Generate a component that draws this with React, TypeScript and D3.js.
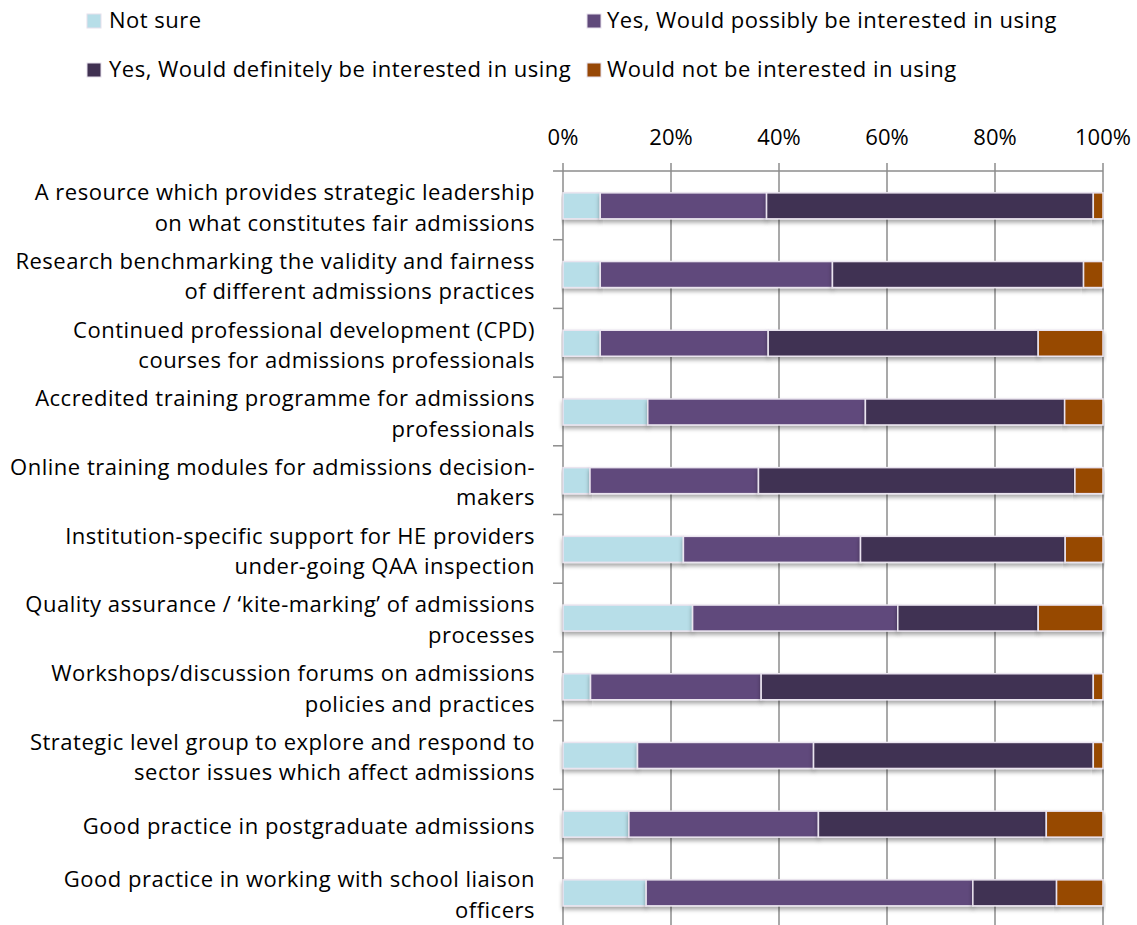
import React from "react";
import * as d3 from "d3";

const categories: string[] = [
  "A resource which provides strategic leadership\non what constitutes fair admissions",
  "Research benchmarking the validity and fairness\nof different admissions practices",
  "Continued professional development (CPD)\ncourses for admissions professionals",
  "Accredited training programme for admissions\nprofessionals",
  "Online training modules for admissions decision-\nmakers",
  "Institution-specific support for HE providers\nunder-going QAA inspection",
  "Quality assurance / \u2018kite-marking\u2019 of admissions\nprocesses",
  "Workshops/discussion forums on admissions\npolicies and practices",
  "Strategic level group to explore and respond to\nsector issues which affect admissions",
  "Good practice in postgraduate admissions",
  "Good practice in working with school liaison\nofficers",
];

const seriesNames: string[] = [
  "Not sure",
  "Yes, Would possibly be interested in using",
  "Yes, Would definitely be interested in using",
  "Would not be interested in using",
];

const notSure: number[] = [6.9, 6.9, 6.9, 15.7, 5.0, 22.3, 24.0, 5.1, 13.8, 12.2, 15.4];
const possibly: number[] = [30.8, 43.0, 31.1, 40.3, 31.2, 32.8, 38.0, 31.6, 32.6, 35.1, 60.5];
const definitely: number[] = [60.5, 46.5, 50.0, 36.9, 58.6, 37.9, 26.0, 61.5, 51.8, 42.2, 15.5];
const notInterested: number[] = [1.8, 3.6, 12.0, 7.1, 5.2, 7.0, 12.0, 1.8, 1.8, 10.5, 8.6];

const colors: string[] = ["#B7DEE8", "#604A7B", "#403152", "#974806"];
const xTicks: number[] = [0, 0.2, 0.4, 0.6, 0.8, 1.0];

const FONT = "'Open Sans', 'Noto Sans', sans-serif";
const FS = 22;
const LS = 0.5;

export default function App() {
  const width = 1137;
  const height = 925;
  const left = 563;
  const right = 1103;
  const top = 171;
  const step = 68.7;

  const rows = categories.map((c, i) => {
    const vals = [notSure[i], possibly[i], definitely[i], notInterested[i]];
    const total = d3.sum(vals);
    const o: any = { cat: c };
    seriesNames.forEach((s, j) => (o[s] = vals[j] / total));
    return o;
  });

  const stack = d3.stack<any>().keys(seriesNames);
  const stacked = stack(rows);

  const x = d3.scaleLinear().domain([0, 1]).range([left, right]);
  const y = d3
    .scaleBand<string>()
    .domain(categories)
    .range([top, top + step * categories.length])
    .padding(0);
  const barH = 26;

  const legendItems = [
    { name: seriesNames[0], color: colors[0], mx: 87, tx: 109, by: 28 },
    { name: seriesNames[1], color: colors[1], mx: 587, tx: 607, by: 28 },
    { name: seriesNames[2], color: colors[2], mx: 87, tx: 109, by: 77 },
    { name: seriesNames[3], color: colors[3], mx: 587, tx: 607, by: 77 },
  ];

  const gridColor = "#8C8C8C";

  return (
    <svg
      width={width}
      height={height}
      style={{ position: "absolute", left: 0, top: 0, display: "block", background: "#fff" }}
      fontFamily={FONT}
    >
      <defs>
        <filter id="shadow" x="-5%" y="-30%" width="110%" height="180%">
          <feDropShadow dx="0" dy="3" stdDeviation="2" floodColor="#000" floodOpacity="0.35" />
        </filter>
      </defs>

      {/* legend */}
      {legendItems.map((l) => (
        <g key={l.name}>
          <rect x={l.mx} y={l.by - 14} width={14} height={14} fill={l.color} stroke="#E6E0EC" strokeWidth={1} />
          <text x={l.tx} y={l.by} fontSize={FS} letterSpacing={LS} fill="#000">
            {l.name}
          </text>
        </g>
      ))}

      {/* x tick labels */}
      {xTicks.map((t) => (
        <text key={"xl" + t} x={x(t)} y={145} fontSize={FS} textAnchor="middle" fill="#000">
          {d3.format(".0%")(t)}
        </text>
      ))}

      {/* gridlines */}
      {xTicks.map((t) => (
        <line key={"g" + t} x1={x(t)} x2={x(t)} y1={163} y2={height + 5} stroke={gridColor} strokeWidth={1.5} />
      ))}
      <line x1={553} x2={right} y1={top} y2={top} stroke={gridColor} strokeWidth={1.5} />
      {categories.map((c, i) => (
        <line
          key={"yt" + i}
          x1={553}
          x2={left}
          y1={(y(c) as number) + step}
          y2={(y(c) as number) + step}
          stroke={gridColor}
          strokeWidth={1.5}
        />
      ))}

      {/* bars */}
      {stacked.map((s, si) => (
        <g key={s.key} fill={colors[si]}>
          {s.map((d, i) => {
            const cy = (y(categories[i]) as number) + y.bandwidth() / 2 + 0.5;
            return (
              <rect
                key={i}
                x={x(d[0])}
                y={cy - barH / 2}
                width={Math.max(0, x(d[1]) - x(d[0]))}
                height={barH}
                stroke="#EAE4EF"
                strokeWidth={1.5}
                filter="url(#shadow)"
              />
            );
          })}
        </g>
      ))}

      {/* category labels */}
      {categories.map((c) => {
        const lines = c.split("\n");
        const cy = (y(c) as number) + y.bandwidth() / 2;
        const lh = 30.5;
        const firstBase = cy + 8 - ((lines.length - 1) * lh) / 2 + 2;
        return (
          <text key={c} x={535} fontSize={FS} letterSpacing={LS} textAnchor="end" fill="#000">
            {lines.map((ln, k) => (
              <tspan key={k} x={535} y={firstBase + k * lh}>
                {ln}
              </tspan>
            ))}
          </text>
        );
      })}
    </svg>
  );
}
